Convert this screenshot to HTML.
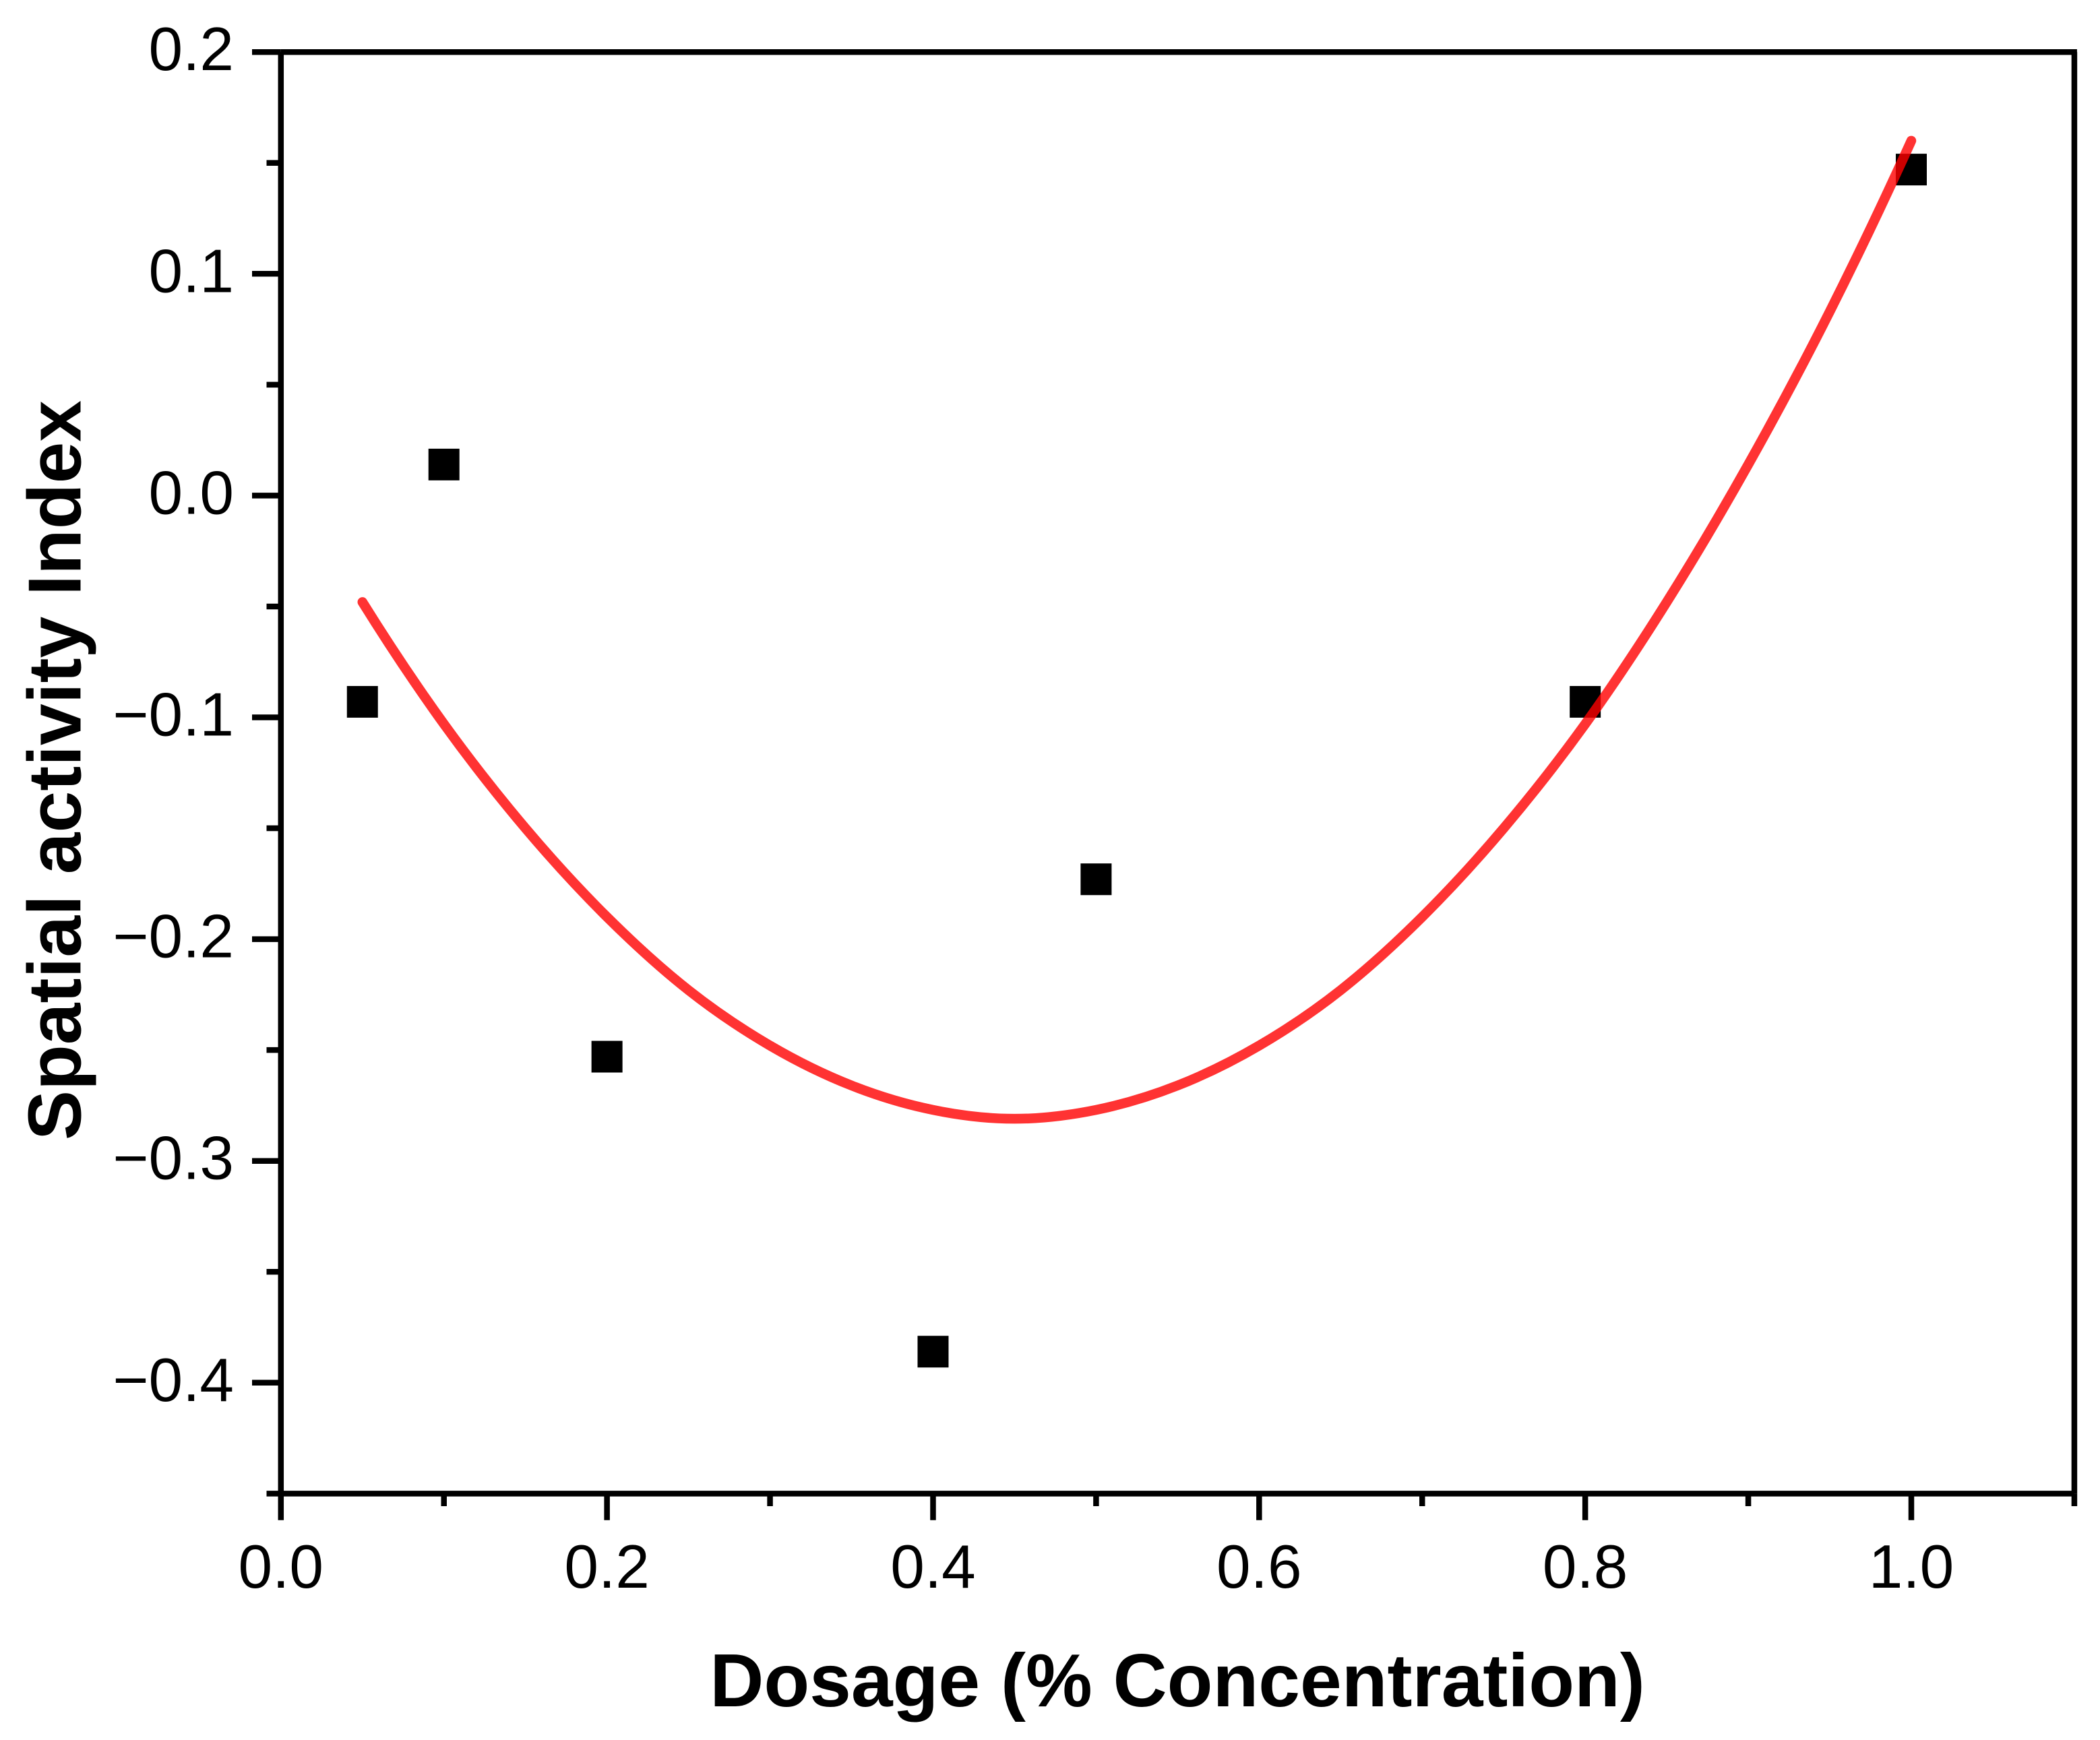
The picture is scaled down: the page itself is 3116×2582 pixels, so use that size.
<!DOCTYPE html>
<html lang="en">
<head>
<meta charset="utf-8">
<title>Spatial activity Index vs Dosage</title>
<style>
html,body{margin:0;padding:0;background:#fff;}
body{width:3116px;height:2582px;overflow:hidden;}
svg{display:block;}
text{font-family:"Liberation Sans",Arial,sans-serif;fill:#000;}
.tick-label{font-size:91px;}
.axis-title{font-size:111px;font-weight:bold;}
</style>
</head>
<body>
<svg id="chart" xmlns="http://www.w3.org/2000/svg" width="3116" height="2582" viewBox="0 0 3116 2582">
  <rect x="0" y="0" width="3116" height="2582" fill="#fff"/>
  <g id="marks"></g>
  <g id="axes"></g>
  <text class="axis-title" x="1747" y="2532" text-anchor="middle">Dosage (% Concentration)</text>
  <text class="axis-title" transform="translate(119.6 1143) rotate(-90)" text-anchor="middle">Spatial activity Index</text>
</svg>
<script>
const dosage = [0.05, 0.1, 0.2, 0.4, 0.5, 0.8, 1.0];
const activity = [-0.093, 0.014, -0.253, -0.386, -0.173, -0.093, 0.147];
const fitDosage = [0.05, 0.1, 0.15, 0.2, 0.25, 0.3, 0.35, 0.4, 0.45, 0.5, 0.55, 0.6, 0.65, 0.7, 0.75, 0.8, 0.85, 0.9, 0.95, 1.0];
const fitActivity = [-0.048, -0.103, -0.150, -0.190, -0.223, -0.248, -0.266, -0.277, -0.281, -0.277, -0.266, -0.248, -0.223, -0.190, -0.150, -0.103, -0.048, 0.014, 0.083, 0.160];
const xMajorTicks = [0, 0.2, 0.4, 0.6, 0.8, 1.0];
const xMinorTicks = [0.1, 0.3, 0.5, 0.7, 0.9, 1.1];
const yMajorTicks = [0.2, 0.1, 0, -0.1, -0.2, -0.3, -0.4];
const yMinorTicks = [0.15, 0.05, -0.05, -0.15, -0.25, -0.35, -0.45];
const xTickLabels = ['0.0', '0.2', '0.4', '0.6', '0.8', '1.0'];
const yTickLabels = ['0.2', '0.1', '0.0', '\u22120.1', '\u22120.2', '\u22120.3', '\u22120.4'];

const SVG_NS = 'http://www.w3.org/2000/svg';
const X0 = 416.8, XK = 2419.2;
const Y0 = 735.4, YK = 3291;
function sx(v) { return X0 + v * XK; }
function sy(v) { return Y0 - v * YK; }

const marks = document.getElementById('marks');
const axes = document.getElementById('axes');

function make(tag, parent) {
  const el = document.createElementNS(SVG_NS, tag);
  parent.appendChild(el);
  return el;
}

// data points
dosage.forEach(function (d, i) {
  const r = make('rect', marks);
  
  
  r.setAttribute('x', sx(d) - 23);
  r.setAttribute('y', sy(activity[i]) - 23.5);
  r.setAttribute('width', 46);
  r.setAttribute('height', 47);
  r.setAttribute('fill', '#000');
});

// fitted curve (Catmull-Rom through the read points, ends extended quadratically)
const pts = fitDosage.map(function (d, i) { return [sx(d), sy(fitActivity[i])]; });
function ext(a, b, c) { return [3 * a[0] - 3 * b[0] + c[0], 3 * a[1] - 3 * b[1] + c[1]]; }
const n = pts.length;
let pathD = 'M' + pts[0][0] + ' ' + pts[0][1];
for (let i = 0; i < n - 1; i++) {
  const p0 = i > 0 ? pts[i - 1] : ext(pts[0], pts[1], pts[2]);
  const p1 = pts[i], p2 = pts[i + 1];
  const p3 = i + 2 < n ? pts[i + 2] : ext(pts[n - 1], pts[n - 2], pts[n - 3]);
  pathD += ' C' + (p1[0] + (p2[0] - p0[0]) / 6) + ' ' + (p1[1] + (p2[1] - p0[1]) / 6) + ' ' +
    (p2[0] - (p3[0] - p1[0]) / 6) + ' ' + (p2[1] - (p3[1] - p1[1]) / 6) + ' ' + p2[0] + ' ' + p2[1];
}
const curve = make('path', marks);


curve.setAttribute('d', pathD);
curve.setAttribute('fill', 'none');
curve.setAttribute('stroke', 'rgb(255,0,0)');
curve.setAttribute('stroke-opacity', '0.8');
curve.setAttribute('stroke-width', '14.5');
curve.setAttribute('stroke-linecap', 'round');

// axis frame
const yTop = sy(0.2), yBottom = sy(-0.45), xLeft = sx(0), xRight = sx(1.1);

const spineLeft = make('line', axes);


spineLeft.setAttribute('x1', xLeft);
spineLeft.setAttribute('x2', xLeft);
spineLeft.setAttribute('y1', yTop);
spineLeft.setAttribute('y2', yBottom);
spineLeft.setAttribute('stroke', '#000');
spineLeft.setAttribute('stroke-width', 8.5);

const spineBottom = make('line', axes);


spineBottom.setAttribute('x1', xLeft);
spineBottom.setAttribute('x2', xRight);
spineBottom.setAttribute('y1', yBottom);
spineBottom.setAttribute('y2', yBottom);
spineBottom.setAttribute('stroke', '#000');
spineBottom.setAttribute('stroke-width', 8.5);

const spineTop = make('line', axes);


spineTop.setAttribute('x1', xLeft);
spineTop.setAttribute('x2', xRight + 4);
spineTop.setAttribute('y1', yTop);
spineTop.setAttribute('y2', yTop);
spineTop.setAttribute('stroke', '#000');
spineTop.setAttribute('stroke-width', 8.5);

const spineRight = make('line', axes);


spineRight.setAttribute('x1', xRight);
spineRight.setAttribute('x2', xRight);
spineRight.setAttribute('y1', yTop);
spineRight.setAttribute('y2', yBottom);
spineRight.setAttribute('stroke', '#000');
spineRight.setAttribute('stroke-width', 8.5);

// x ticks
xMajorTicks.forEach(function (v, i) {
  const t = make('line', axes);
  
  
  t.setAttribute('x1', sx(v));
  t.setAttribute('x2', sx(v));
  t.setAttribute('y1', yBottom);
  t.setAttribute('y2', 2255.7);
  t.setAttribute('stroke', '#000');
  t.setAttribute('stroke-width', 8.5);
  const l = make('text', axes);
  
  
  l.setAttribute('class', 'tick-label');
  l.setAttribute('x', sx(v));
  l.setAttribute('y', 2356);
  l.setAttribute('text-anchor', 'middle');
  l.textContent = xTickLabels[i];
});
xMinorTicks.forEach(function (v) {
  const t = make('line', axes);
  
  
  t.setAttribute('x1', sx(v));
  t.setAttribute('x2', sx(v));
  t.setAttribute('y1', yBottom);
  t.setAttribute('y2', 2235);
  t.setAttribute('stroke', '#000');
  t.setAttribute('stroke-width', 8.5);
});

// y ticks
yMajorTicks.forEach(function (v, i) {
  const t = make('line', axes);
  
  
  t.setAttribute('x1', 374);
  t.setAttribute('x2', xLeft);
  t.setAttribute('y1', sy(v));
  t.setAttribute('y2', sy(v));
  t.setAttribute('stroke', '#000');
  t.setAttribute('stroke-width', 8.5);
  const l = make('text', axes);
  
  
  l.setAttribute('class', 'tick-label');
  l.setAttribute('x', 347);
  l.setAttribute('y', sy(v) + 27);
  l.setAttribute('text-anchor', 'end');
  l.textContent = yTickLabels[i];
});
yMinorTicks.forEach(function (v) {
  const t = make('line', axes);
  
  
  t.setAttribute('x1', 395.5);
  t.setAttribute('x2', xLeft);
  t.setAttribute('y1', sy(v));
  t.setAttribute('y2', sy(v));
  t.setAttribute('stroke', '#000');
  t.setAttribute('stroke-width', 8.5);
});
</script>
</body>
</html>
